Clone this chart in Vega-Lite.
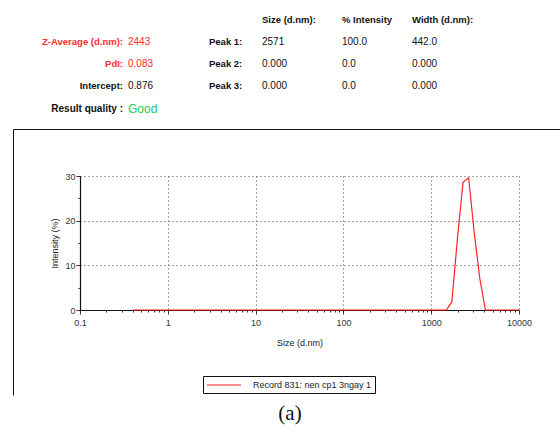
{
  "$schema": "https://vega.github.io/schema/vega-lite/v6.json",
  "background": "white",
  "width": 439,
  "height": 134,
  "autosize": {"type": "none"},
  "padding": {"left": 80, "top": 176, "right": 41, "bottom": 124},
  "config": {"view": {"stroke": null}, "font": "Liberation Sans"},
  "title": {"text": "Size Distribution by Intensity", "fontSize": 9, "fontWeight": "normal", "font": "Liberation Sans", "color": "#222222", "offset": 24, "dx": -12, "anchor": "middle"},
  "data": {"values": [
    {"size": 0.4, "intensity": 0}, {"size": 0.4632, "intensity": 0}, {"size": 0.5365, "intensity": 0},
    {"size": 0.6213, "intensity": 0}, {"size": 0.7195, "intensity": 0}, {"size": 0.8332, "intensity": 0},
    {"size": 0.9649, "intensity": 0}, {"size": 1.117, "intensity": 0}, {"size": 1.294, "intensity": 0},
    {"size": 1.499, "intensity": 0}, {"size": 1.736, "intensity": 0}, {"size": 2.01, "intensity": 0},
    {"size": 2.328, "intensity": 0}, {"size": 2.696, "intensity": 0}, {"size": 3.122, "intensity": 0},
    {"size": 3.615, "intensity": 0}, {"size": 4.187, "intensity": 0}, {"size": 4.849, "intensity": 0},
    {"size": 5.615, "intensity": 0}, {"size": 6.503, "intensity": 0}, {"size": 7.531, "intensity": 0},
    {"size": 8.721, "intensity": 0}, {"size": 10.1, "intensity": 0}, {"size": 11.7, "intensity": 0},
    {"size": 13.54, "intensity": 0}, {"size": 15.69, "intensity": 0}, {"size": 18.17, "intensity": 0},
    {"size": 21.04, "intensity": 0}, {"size": 24.36, "intensity": 0}, {"size": 28.21, "intensity": 0},
    {"size": 32.67, "intensity": 0}, {"size": 37.84, "intensity": 0}, {"size": 43.82, "intensity": 0},
    {"size": 50.75, "intensity": 0}, {"size": 58.77, "intensity": 0}, {"size": 68.06, "intensity": 0},
    {"size": 78.82, "intensity": 0}, {"size": 91.28, "intensity": 0}, {"size": 105.7, "intensity": 0},
    {"size": 122.4, "intensity": 0}, {"size": 141.8, "intensity": 0}, {"size": 164.2, "intensity": 0},
    {"size": 190.1, "intensity": 0}, {"size": 220.2, "intensity": 0}, {"size": 255.0, "intensity": 0},
    {"size": 295.3, "intensity": 0}, {"size": 342.0, "intensity": 0}, {"size": 396.1, "intensity": 0},
    {"size": 458.7, "intensity": 0}, {"size": 531.2, "intensity": 0}, {"size": 615.1, "intensity": 0},
    {"size": 712.4, "intensity": 0}, {"size": 825.0, "intensity": 0}, {"size": 955.4, "intensity": 0},
    {"size": 1106, "intensity": 0}, {"size": 1281, "intensity": 0}, {"size": 1484, "intensity": 0},
    {"size": 1718, "intensity": 1.8}, {"size": 1990, "intensity": 16.0}, {"size": 2305, "intensity": 28.6},
    {"size": 2669, "intensity": 29.6}, {"size": 3091, "intensity": 17.3}, {"size": 3580, "intensity": 7.0},
    {"size": 4145, "intensity": 0}, {"size": 4801, "intensity": 0}, {"size": 5560, "intensity": 0},
    {"size": 6439, "intensity": 0}, {"size": 7456, "intensity": 0}, {"size": 8635, "intensity": 0},
    {"size": 10000, "intensity": 0}
  ]},
  "resolve": {"scale": {"x": "independent", "y": "independent"}},
  "layer": [
    {
      "mark": {"type": "point", "opacity": 0, "size": 0},
      "encoding": {
        "x": {"field": "size", "type": "quantitative",
              "scale": {"type": "linear", "range": [-67, 480]},
              "axis": {"orient": "top", "offset": 47, "labels": false, "ticks": false, "grid": false, "title": null, "domainColor": "#111111", "domainWidth": 1}},
        "y": {"field": "intensity", "type": "quantitative",
              "scale": {"type": "linear", "range": [219, -47]},
              "axis": {"orient": "left", "offset": 67, "labels": false, "ticks": false, "grid": false, "title": null, "domainColor": "#111111", "domainWidth": 1}}
      }
    },
    {
      "mark": {"type": "line", "strokeWidth": 1.2},
      "encoding": {
        "x": {
          "field": "size", "type": "quantitative",
          "scale": {"type": "log", "domain": [0.1, 10000], "nice": false},
          "axis": {
            "orient": "bottom",
            "title": "Size (d.nm)", "titleFontSize": 9, "titleFontWeight": "normal", "titleFont": "Liberation Sans", "titleColor": "#222222", "titlePadding": 11,
            "values": [0.1, 0.2, 0.3, 0.4, 0.5, 0.6, 0.7, 0.8, 0.9, 1, 2, 3, 4, 5, 6, 7, 8, 9, 10, 20, 30, 40, 50, 60, 70, 80, 90, 100, 200, 300, 400, 500, 600, 700, 800, 900, 1000, 2000, 3000, 4000, 5000, 6000, 7000, 8000, 9000, 10000],
            "format": "~g",
            "labelExpr": "abs(log(datum.value)/LN10 - round(log(datum.value)/LN10)) < 0.001 ? datum.label : ''",
            "labelFontSize": 9, "labelFont": "Liberation Sans", "labelColor": "#333333", "labelPadding": 4, "labelFlush": false, "labelOverlap": false,
            "domainColor": "#111111", "domainWidth": 1.2,
            "tickColor": "#333333",
            "tickSize": {"condition": {"test": "abs(log(datum.value)/LN10 - round(log(datum.value)/LN10)) < 0.001", "value": 4}, "value": 2},
            "grid": true, "gridColor": "#444444", "gridDash": [1, 3],
            "gridOpacity": {"condition": {"test": "abs(log(datum.value)/LN10 - round(log(datum.value)/LN10)) < 0.001", "value": 1}, "value": 0}
          }
        },
        "y": {
          "field": "intensity", "type": "quantitative",
          "scale": {"domain": [0, 30], "nice": false},
          "axis": {
            "orient": "left",
            "title": "Intensity (%)", "titleFontSize": 9, "titleFontWeight": "normal", "titleFont": "Liberation Sans", "titleColor": "#222222", "titlePadding": 5,
            "values": [0, 5, 10, 15, 20, 25, 30],
            "labelExpr": "datum.value % 10 == 0 ? datum.label : ''",
            "labelFontSize": 9, "labelFont": "Liberation Sans", "labelColor": "#333333", "labelPadding": 1, "labelOverlap": false,
            "domainColor": "#111111", "domainWidth": 1.2,
            "tickColor": "#333333",
            "tickSize": {"condition": {"test": "datum.value % 10 == 0", "value": 4}, "value": 2},
            "grid": true, "gridColor": "#444444", "gridDash": [1, 3],
            "gridOpacity": {"condition": {"test": "datum.value % 10 == 0 && datum.value > 0", "value": 1}, "value": 0}
          }
        },
        "color": {
          "datum": "Record 831: nen cp1 3ngay 1", "type": "nominal",
          "scale": {"range": ["#ff2020"]},
          "legend": {
            "orient": "none", "legendX": 123, "legendY": 200, "title": null,
            "strokeColor": "#111111", "padding": 3,
            "symbolType": "M-1,0H5.8", "symbolSize": 100, "symbolStrokeWidth": 1.2,
            "labelFontSize": 9, "labelFont": "Liberation Sans", "labelColor": "#222222", "labelOffset": 35
          }
        }
      }
    },
    {
      "data": {"values": [
        {"row": 0, "col": 3, "text": "Size (d.nm):"},
        {"row": 0, "col": 4, "text": "% Intensity"},
        {"row": 0, "col": 5, "text": "Width (d.nm):"},
        {"row": 1, "col": 0, "text": "Z-Average (d.nm):"},
        {"row": 1, "col": 1, "text": "2443"},
        {"row": 1, "col": 2, "text": "Peak 1:"},
        {"row": 1, "col": 3, "text": "2571"},
        {"row": 1, "col": 4, "text": "100.0"},
        {"row": 1, "col": 5, "text": "442.0"},
        {"row": 2, "col": 0, "text": "PdI:"},
        {"row": 2, "col": 1, "text": "0.083"},
        {"row": 2, "col": 2, "text": "Peak 2:"},
        {"row": 2, "col": 3, "text": "0.000"},
        {"row": 2, "col": 4, "text": "0.0"},
        {"row": 2, "col": 5, "text": "0.000"},
        {"row": 3, "col": 0, "text": "Intercept:"},
        {"row": 3, "col": 1, "text": "0.876"},
        {"row": 3, "col": 2, "text": "Peak 3:"},
        {"row": 3, "col": 3, "text": "0.000"},
        {"row": 3, "col": 4, "text": "0.0"},
        {"row": 3, "col": 5, "text": "0.000"},
        {"row": 4, "col": 0, "text": "Result quality :"},
        {"row": 4, "col": 1, "text": "Good"},
        {"row": 5, "col": 6, "text": "(a)"}
      ]},
      "encoding": {
        "x": {"field": "col", "type": "quantitative", "axis": null,
              "scale": {"domain": [0, 1, 2, 3, 4, 5, 6], "range": [43, 48, 129, 182, 262, 332, 210], "nice": false, "zero": false}},
        "y": {"field": "row", "type": "quantitative", "axis": null,
              "scale": {"domain": [0, 4, 5], "range": [-156.2, -67.4, 238], "nice": false, "zero": false}},
        "text": {"field": "text"}
      },
      "layer": [
        {
          "transform": [{"filter": "datum.col == 0"}],
          "mark": {"type": "text", "align": "right", "baseline": "middle", "fontWeight": "bold", "font": "Liberation Sans"},
          "encoding": {
            "color": {"condition": {"test": "datum.row == 1 || datum.row == 2", "value": "#ff2a2a"}, "value": "#111111"},
            "size": {"condition": {"test": "datum.row == 4", "value": 10}, "value": 9.5}
          }
        },
        {
          "transform": [{"filter": "datum.col == 2 || (datum.row == 0 && datum.col > 0 && datum.col <= 5)"}],
          "mark": {"type": "text", "align": "left", "baseline": "middle", "fontWeight": "bold", "font": "Liberation Sans", "fontSize": 9.5, "color": "#111111"}
        },
        {
          "transform": [{"filter": "datum.col == 1 || (datum.col >= 3 && datum.col <= 5 && datum.row > 0)"}],
          "mark": {"type": "text", "align": "left", "baseline": "middle", "font": "Liberation Sans"},
          "encoding": {
            "color": {"condition": [{"test": "(datum.row == 1 || datum.row == 2) && datum.col == 1", "value": "#ff2a2a"}, {"test": "datum.row == 4", "value": "#1ecc5a"}], "value": "#111111"},
            "size": {"condition": {"test": "datum.row == 4", "value": 12}, "value": 10}
          }
        },
        {
          "transform": [{"filter": "datum.col == 6"}],
          "mark": {"type": "text", "align": "center", "baseline": "middle", "font": "Liberation Serif", "fontSize": 21, "color": "#111111"}
        }
      ]
    }
  ]
}
